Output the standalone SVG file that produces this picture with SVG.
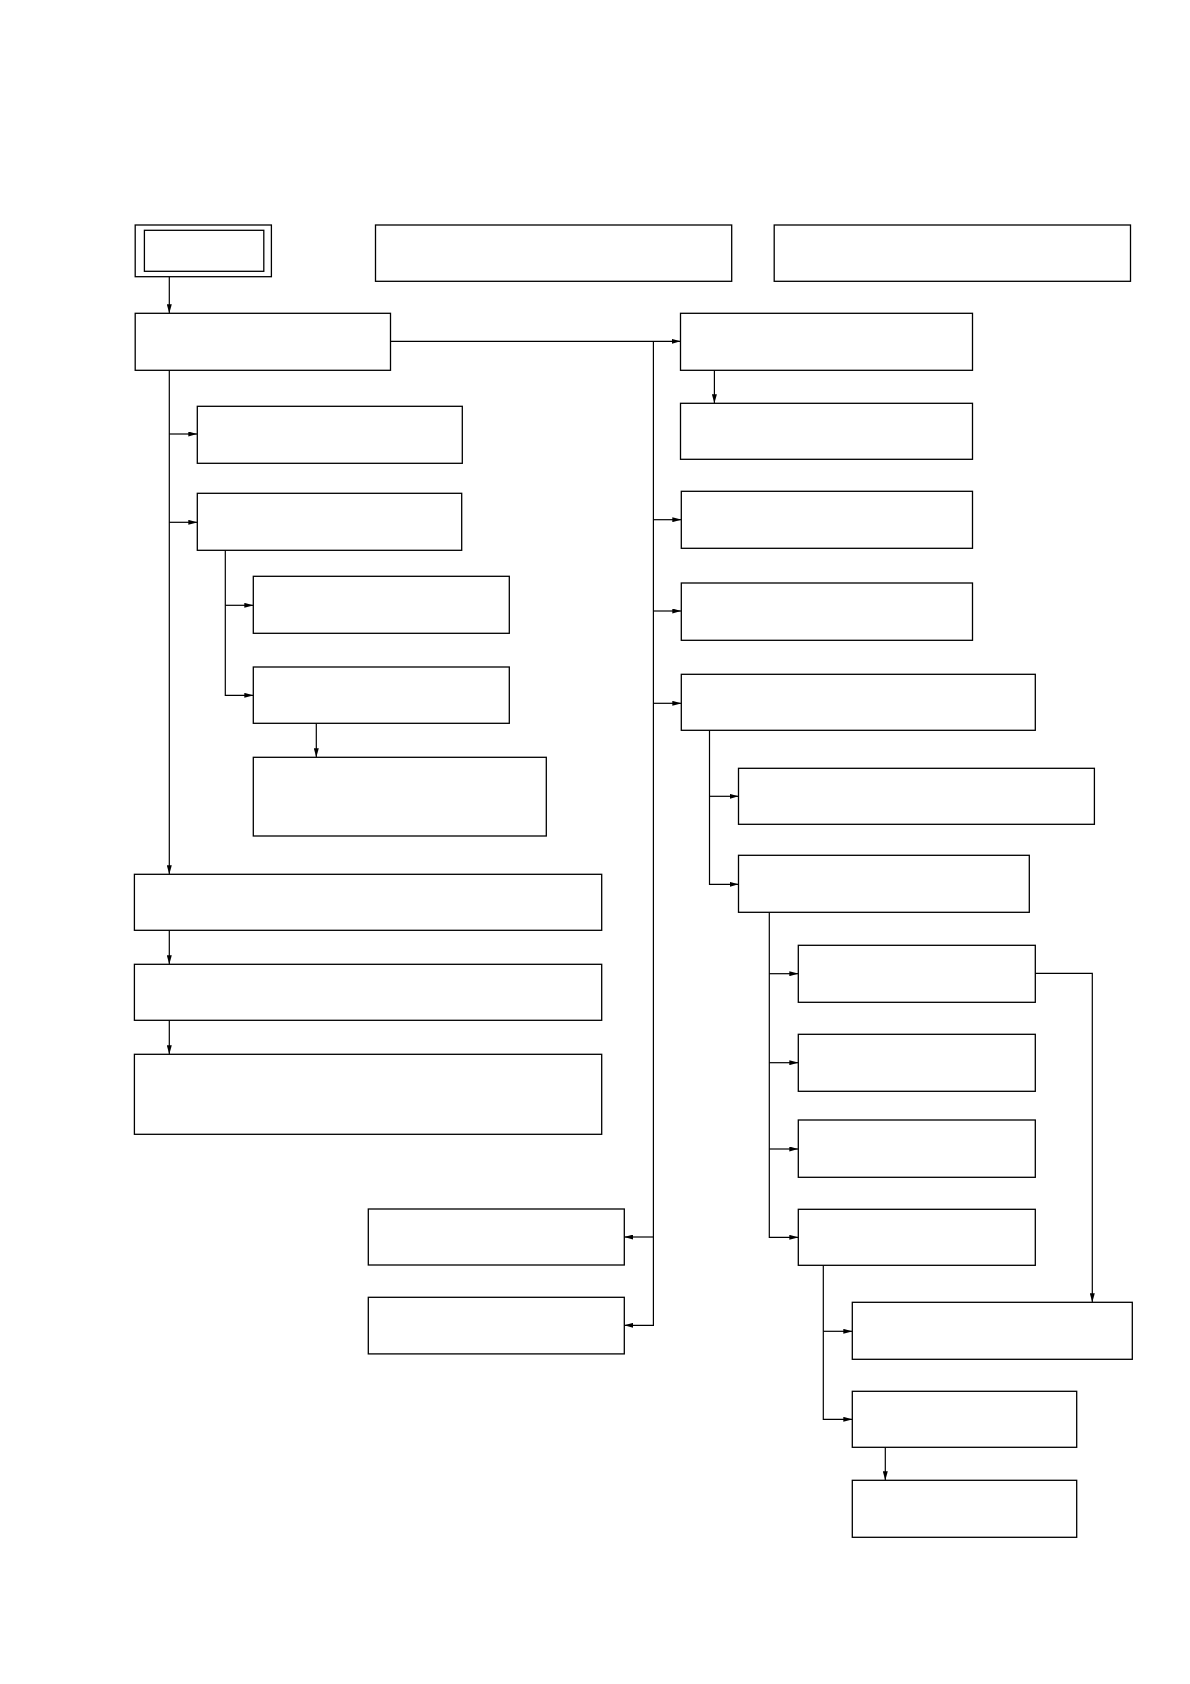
<svg xmlns="http://www.w3.org/2000/svg" width="1190" height="1684" viewBox="0 0 1190 1684">
<style>
.n rect{fill:#fff;stroke:#000;stroke-width:1.3}
.c path{fill:none;stroke:#000;stroke-width:1.2}
</style>
<defs>
<marker id="ah" markerUnits="userSpaceOnUse" markerWidth="9" markerHeight="5" refX="9" refY="2.5" orient="auto">
<path d="M0,0 L9,2.5 L0,5 z" fill="#000"/>
</marker>
</defs>
<rect x="0" y="0" width="1190" height="1684" fill="#fff"/>
<g class="c" id="connectors">
<path d="M169.3,276.7 V313.3" marker-end="url(#ah)"/>
<path d="M169.3,370.3 V874.3" marker-end="url(#ah)"/>
<path d="M169.3,434 H197.3" marker-end="url(#ah)"/>
<path d="M169.3,522.3 H197.3" marker-end="url(#ah)"/>
<path d="M225.3,550.3 V695.3 H253.3" marker-end="url(#ah)"/>
<path d="M225.3,605.3 H253.3" marker-end="url(#ah)"/>
<path d="M316.3,723.3 V757.3" marker-end="url(#ah)"/>
<path d="M169.3,930.3 V964.3" marker-end="url(#ah)"/>
<path d="M169.3,1020.3 V1054.3" marker-end="url(#ah)"/>
<path d="M390.5,341.3 H680.5" marker-end="url(#ah)"/>
<path d="M653.4,341.3 V1325.3 H624.3" marker-end="url(#ah)"/>
<path d="M653.4,519.7 H681.3" marker-end="url(#ah)"/>
<path d="M653.4,611 H681.3" marker-end="url(#ah)"/>
<path d="M653.4,703.3 H681.3" marker-end="url(#ah)"/>
<path d="M653.4,1237 H624.3" marker-end="url(#ah)"/>
<path d="M714.4,370.3 V403.3" marker-end="url(#ah)"/>
<path d="M709.5,730.3 V884.3 H738.5" marker-end="url(#ah)"/>
<path d="M709.5,796.3 H738.5" marker-end="url(#ah)"/>
<path d="M769.3,912.3 V1237.3 H798.3" marker-end="url(#ah)"/>
<path d="M769.3,973.7 H798.3" marker-end="url(#ah)"/>
<path d="M769.3,1062.7 H798.3" marker-end="url(#ah)"/>
<path d="M769.3,1149 H798.3" marker-end="url(#ah)"/>
<path d="M1035.3,973.3 H1092.3 V1302.3" marker-end="url(#ah)"/>
<path d="M823.3,1265.3 V1419.3 H852.3" marker-end="url(#ah)"/>
<path d="M823.3,1331.3 H852.3" marker-end="url(#ah)"/>
<path d="M885.3,1447.3 V1480.3" marker-end="url(#ah)"/>
</g>
<g class="n" id="start"><rect x="135.2" y="225" width="136.2" height="51.7"/><rect x="144.4" y="230.3" width="119.4" height="41"/></g>
<g class="n" id="top-mid"><rect x="375.5" y="225" width="356.2" height="56.3"/></g>
<g class="n" id="top-right"><rect x="774.2" y="225" width="356.3" height="56.3"/></g>
<g class="n" id="a"><rect x="135.2" y="313.3" width="255.3" height="57"/></g>
<g class="n" id="l1"><rect x="197.3" y="406.3" width="265" height="57"/></g>
<g class="n" id="l2"><rect x="197.3" y="493.3" width="264.4" height="57"/></g>
<g class="n" id="l3"><rect x="253.3" y="576.3" width="256" height="57"/></g>
<g class="n" id="l4"><rect x="253.3" y="667" width="256" height="56.3"/></g>
<g class="n" id="l5"><rect x="253.3" y="757.3" width="293" height="78.7"/></g>
<g class="n" id="l6"><rect x="134.4" y="874.3" width="467.3" height="56"/></g>
<g class="n" id="l7"><rect x="134.4" y="964.3" width="467.3" height="56"/></g>
<g class="n" id="l8"><rect x="134.4" y="1054.3" width="467.3" height="80"/></g>
<g class="n" id="b1"><rect x="368.3" y="1209" width="256" height="56"/></g>
<g class="n" id="b2"><rect x="368.3" y="1297.3" width="256" height="56.6"/></g>
<g class="n" id="r1"><rect x="680.5" y="313.3" width="292" height="57"/></g>
<g class="n" id="r2"><rect x="680.5" y="403.3" width="292" height="56"/></g>
<g class="n" id="r3"><rect x="681.3" y="491.3" width="291.2" height="57"/></g>
<g class="n" id="r4"><rect x="681.3" y="583" width="291.2" height="57.3"/></g>
<g class="n" id="r5"><rect x="681.3" y="674.3" width="354" height="56"/></g>
<g class="n" id="r6"><rect x="738.5" y="768.3" width="355.9" height="56"/></g>
<g class="n" id="r7"><rect x="738.5" y="855.3" width="290.8" height="57"/></g>
<g class="n" id="s1"><rect x="798.3" y="945.3" width="237" height="57"/></g>
<g class="n" id="s2"><rect x="798.3" y="1034.3" width="237" height="57"/></g>
<g class="n" id="s3"><rect x="798.3" y="1120" width="237" height="57.3"/></g>
<g class="n" id="s4"><rect x="798.3" y="1209.3" width="237" height="56"/></g>
<g class="n" id="s5"><rect x="852.3" y="1302.3" width="280" height="57"/></g>
<g class="n" id="s6"><rect x="852.3" y="1391.3" width="224.4" height="56"/></g>
<g class="n" id="s7"><rect x="852.3" y="1480.3" width="224.4" height="57"/></g>
</svg>
